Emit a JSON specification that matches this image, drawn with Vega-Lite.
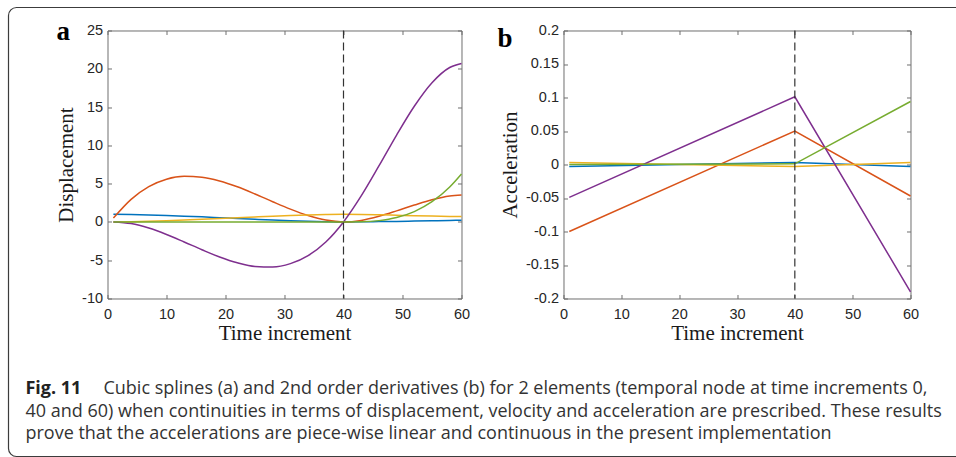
{
  "$schema": "https://vega.github.io/schema/vega-lite/v6.json",
  "background": "white",
  "padding": {"left": 7.5, "top": 6.5, "right": -51.7, "bottom": 0.3},
  "datasets": {
    "disp": [
      {"t": 1, "s": "s1", "v": 1.0}, {"t": 1, "s": "s2", "v": 0.5}, {"t": 1, "s": "s3", "v": 0}, {"t": 1, "s": "s4", "v": 0}, {"t": 1, "s": "s5", "v": 0},
      {"t": 4, "s": "s1", "v": 0.97}, {"t": 4, "s": "s2", "v": 2.95}, {"t": 4, "s": "s3", "v": 0.03}, {"t": 4, "s": "s4", "v": -0.22}, {"t": 4, "s": "s5", "v": 0},
      {"t": 7, "s": "s1", "v": 0.915}, {"t": 7, "s": "s2", "v": 4.61}, {"t": 7, "s": "s3", "v": 0.085}, {"t": 7, "s": "s4", "v": -0.8}, {"t": 7, "s": "s5", "v": 0},
      {"t": 10, "s": "s1", "v": 0.84}, {"t": 10, "s": "s2", "v": 5.58}, {"t": 10, "s": "s3", "v": 0.16}, {"t": 10, "s": "s4", "v": -1.64}, {"t": 10, "s": "s5", "v": 0},
      {"t": 13, "s": "s1", "v": 0.755}, {"t": 13, "s": "s2", "v": 5.95}, {"t": 13, "s": "s3", "v": 0.245}, {"t": 13, "s": "s4", "v": -2.62}, {"t": 13, "s": "s5", "v": 0},
      {"t": 16, "s": "s1", "v": 0.66}, {"t": 16, "s": "s2", "v": 5.84}, {"t": 16, "s": "s3", "v": 0.34}, {"t": 16, "s": "s4", "v": -3.63}, {"t": 16, "s": "s5", "v": 0},
      {"t": 19, "s": "s1", "v": 0.555}, {"t": 19, "s": "s2", "v": 5.35}, {"t": 19, "s": "s3", "v": 0.445}, {"t": 19, "s": "s4", "v": -4.58}, {"t": 19, "s": "s5", "v": 0},
      {"t": 22, "s": "s1", "v": 0.45}, {"t": 22, "s": "s2", "v": 4.59}, {"t": 22, "s": "s3", "v": 0.55}, {"t": 22, "s": "s4", "v": -5.34}, {"t": 22, "s": "s5", "v": 0},
      {"t": 25, "s": "s1", "v": 0.345}, {"t": 25, "s": "s2", "v": 3.65}, {"t": 25, "s": "s3", "v": 0.655}, {"t": 25, "s": "s4", "v": -5.82}, {"t": 25, "s": "s5", "v": 0},
      {"t": 28, "s": "s1", "v": 0.245}, {"t": 28, "s": "s2", "v": 2.64}, {"t": 28, "s": "s3", "v": 0.755}, {"t": 28, "s": "s4", "v": -5.89}, {"t": 28, "s": "s5", "v": 0},
      {"t": 31, "s": "s1", "v": 0.16}, {"t": 31, "s": "s2", "v": 1.67}, {"t": 31, "s": "s3", "v": 0.84}, {"t": 31, "s": "s4", "v": -5.45}, {"t": 31, "s": "s5", "v": 0},
      {"t": 34, "s": "s1", "v": 0.085}, {"t": 34, "s": "s2", "v": 0.83}, {"t": 34, "s": "s3", "v": 0.915}, {"t": 34, "s": "s4", "v": -4.4}, {"t": 34, "s": "s5", "v": 0},
      {"t": 37, "s": "s1", "v": 0.03}, {"t": 37, "s": "s2", "v": 0.24}, {"t": 37, "s": "s3", "v": 0.97}, {"t": 37, "s": "s4", "v": -2.62}, {"t": 37, "s": "s5", "v": 0},
      {"t": 40, "s": "s1", "v": 0}, {"t": 40, "s": "s2", "v": 0}, {"t": 40, "s": "s3", "v": 1.0}, {"t": 40, "s": "s4", "v": 0}, {"t": 40, "s": "s5", "v": 0},
      {"t": 43, "s": "s1", "v": 0.01}, {"t": 43, "s": "s2", "v": 0.2}, {"t": 43, "s": "s3", "v": 0.98}, {"t": 43, "s": "s4", "v": 3.4}, {"t": 43, "s": "s5", "v": 0.02},
      {"t": 46, "s": "s1", "v": 0.04}, {"t": 46, "s": "s2", "v": 0.73}, {"t": 46, "s": "s3", "v": 0.93}, {"t": 46, "s": "s4", "v": 7.31}, {"t": 46, "s": "s5", "v": 0.17},
      {"t": 49, "s": "s1", "v": 0.07}, {"t": 49, "s": "s2", "v": 1.44}, {"t": 49, "s": "s3", "v": 0.87}, {"t": 49, "s": "s4", "v": 11.35}, {"t": 49, "s": "s5", "v": 0.57},
      {"t": 52, "s": "s1", "v": 0.11}, {"t": 52, "s": "s2", "v": 2.2}, {"t": 52, "s": "s3", "v": 0.81}, {"t": 52, "s": "s4", "v": 15.11}, {"t": 52, "s": "s5", "v": 1.35},
      {"t": 55, "s": "s1", "v": 0.15}, {"t": 55, "s": "s2", "v": 2.9}, {"t": 55, "s": "s3", "v": 0.76}, {"t": 55, "s": "s4", "v": 18.18}, {"t": 55, "s": "s5", "v": 2.64},
      {"t": 58, "s": "s1", "v": 0.19}, {"t": 58, "s": "s2", "v": 3.39}, {"t": 58, "s": "s3", "v": 0.72}, {"t": 58, "s": "s4", "v": 20.17}, {"t": 58, "s": "s5", "v": 4.57},
      {"t": 60, "s": "s1", "v": 0.22}, {"t": 60, "s": "s2", "v": 3.53}, {"t": 60, "s": "s3", "v": 0.7}, {"t": 60, "s": "s4", "v": 20.7}, {"t": 60, "s": "s5", "v": 6.27}
    ],
    "acc": [
      {"t": 1, "s": "s1", "v": -0.003}, {"t": 40, "s": "s1", "v": 0.003}, {"t": 60, "s": "s1", "v": -0.003},
      {"t": 1, "s": "s2", "v": -0.1}, {"t": 40, "s": "s2", "v": 0.05}, {"t": 60, "s": "s2", "v": -0.047},
      {"t": 1, "s": "s3", "v": 0.003}, {"t": 40, "s": "s3", "v": -0.003}, {"t": 60, "s": "s3", "v": 0.003},
      {"t": 1, "s": "s4", "v": -0.049}, {"t": 40, "s": "s4", "v": 0.101}, {"t": 60, "s": "s4", "v": -0.19},
      {"t": 1, "s": "s5", "v": 0}, {"t": 40, "s": "s5", "v": 0.001}, {"t": 60, "s": "s5", "v": 0.094}
    ],
    "nodes": [{"t": 40}],
    "caption": [
      {"line": 1, "part": "label", "text": "Fig. 11"},
      {"line": 1, "part": "first", "text": "Cubic splines (a) and 2nd order derivatives (b) for 2 elements (temporal node at time increments 0,"},
      {"line": 2, "part": "rest", "text": "40 and 60) when continuities in terms of displacement, velocity and acceleration are prescribed. These results"},
      {"line": 3, "part": "rest", "text": "prove that the accelerations are piece-wise linear and continuous in the present implementation"}
    ]
  },
  "columns": 2,
  "align": "none",
  "bounds": "flush",
  "spacing": {"row": 96, "column": 102},
  "concat": [
    {
      "width": 354,
      "height": 268,
      "title": {"text": "a", "anchor": "start", "frame": "group", "font": "Liberation Serif", "fontSize": 27, "fontWeight": "bold", "color": "#000", "baseline": "alphabetic", "offset": 0, "dx": -51, "dy": 45},
      "layer": [
        {
          "data": {"name": "disp"},
          "mark": {"type": "line", "interpolate": "monotone", "strokeWidth": 1.5},
          "encoding": {
            "x": {"field": "t", "type": "quantitative", "scale": {"domain": [0, 60], "nice": false},
              "axis": {"orient": "bottom", "values": [0, 10, 20, 30, 40, 50, 60], "title": "Time increment", "labelPadding": 13, "titlePadding": 2}},
            "y": {"field": "v", "type": "quantitative", "scale": {"domain": [-10, 25], "nice": false, "zero": false},
              "axis": {"orient": "left", "values": [-10, -5, 0, 5, 10, 15, 20, 25], "title": "Displacement", "labelPadding": 9, "titlePadding": 5, "labelExpr": "toString(datum.value)"}},
            "color": {"field": "s", "type": "nominal", "legend": null,
              "scale": {"domain": ["s1", "s2", "s3", "s4", "s5"], "range": ["#0072BD", "#D95319", "#EDB120", "#7E2F8E", "#77AC30"]}}
          }
        },
        {
          "data": {"name": "disp"},
          "mark": {"type": "point", "opacity": 0},
          "encoding": {
            "x": {"field": "t", "type": "quantitative", "axis": {"orient": "top", "values": [0, 10, 20, 30, 40, 50, 60], "labels": false, "title": null}},
            "y": {"field": "v", "type": "quantitative", "axis": {"orient": "right", "values": [-10, -5, 0, 5, 10, 15, 20, 25], "labels": false, "title": null}}
          }
        },
        {
          "data": {"name": "nodes"},
          "mark": {"type": "rule", "strokeDash": [8, 4], "color": "#333", "strokeWidth": 1.2},
          "encoding": {"x": {"field": "t", "type": "quantitative", "axis": null}}
        }
      ],
      "resolve": {"axis": {"x": "independent", "y": "independent"}}
    },
    {
      "width": 347,
      "height": 268,
      "title": {"text": "b", "anchor": "start", "frame": "group", "font": "Liberation Serif", "fontSize": 27, "fontWeight": "bold", "color": "#000", "baseline": "alphabetic", "offset": 0, "dx": -66, "dy": 52},
      "layer": [
        {
          "data": {"name": "acc"},
          "mark": {"type": "line", "strokeWidth": 1.5},
          "encoding": {
            "x": {"field": "t", "type": "quantitative", "scale": {"domain": [0, 60], "nice": false},
              "axis": {"orient": "bottom", "values": [0, 10, 20, 30, 40, 50, 60], "title": "Time increment", "labelPadding": 13, "titlePadding": 2}},
            "y": {"field": "v", "type": "quantitative", "scale": {"domain": [-0.2, 0.2], "nice": false, "zero": false},
              "axis": {"orient": "left", "values": [-0.2, -0.15, -0.1, -0.05, 0, 0.05, 0.1, 0.15, 0.2], "title": "Acceleration", "labelPadding": 9, "titlePadding": 5, "labelExpr": "toString(datum.value)"}},
            "color": {"field": "s", "type": "nominal", "legend": null,
              "scale": {"domain": ["s1", "s2", "s3", "s4", "s5"], "range": ["#0072BD", "#D95319", "#EDB120", "#7E2F8E", "#77AC30"]}}
          }
        },
        {
          "data": {"name": "acc"},
          "mark": {"type": "point", "opacity": 0},
          "encoding": {
            "x": {"field": "t", "type": "quantitative", "axis": {"orient": "top", "values": [0, 10, 20, 30, 40, 50, 60], "labels": false, "title": null}},
            "y": {"field": "v", "type": "quantitative", "axis": {"orient": "right", "values": [-0.2, -0.15, -0.1, -0.05, 0, 0.05, 0.1, 0.15, 0.2], "labels": false, "title": null}}
          }
        },
        {
          "data": {"name": "nodes"},
          "mark": {"type": "rule", "strokeDash": [8, 4], "color": "#333", "strokeWidth": 1.2},
          "encoding": {"x": {"field": "t", "type": "quantitative", "axis": null}}
        }
      ],
      "resolve": {"axis": {"x": "independent", "y": "independent"}}
    },
    {
      "width": 354,
      "height": 45,
      "layer": [
        {
          "data": {"values": [{}]},
          "mark": {"type": "rect", "filled": false, "stroke": "#3c3c3c", "strokeWidth": 1.2, "cornerRadius": 8},
          "encoding": {"x": {"value": -99}, "x2": {"value": 900}, "y": {"value": -387}, "y2": {"value": 62}}
        },
        {
          "data": {"name": "caption"},
          "transform": [{"filter": "datum.part == 'label'"}],
          "mark": {"type": "text", "align": "left", "baseline": "alphabetic", "font": "Open Sans", "fontSize": 18, "fontWeight": "bold", "color": "#222"},
          "encoding": {
            "x": {"value": -82},
            "y": {"field": "line", "type": "ordinal", "axis": null, "scale": {"type": "point", "padding": 0}},
            "text": {"field": "text"}
          }
        },
        {
          "data": {"name": "caption"},
          "transform": [{"filter": "datum.part == 'first'"}],
          "mark": {"type": "text", "align": "left", "baseline": "alphabetic", "font": "Open Sans", "fontSize": 18, "color": "#333"},
          "encoding": {
            "x": {"value": -4},
            "y": {"field": "line", "type": "ordinal", "axis": null, "scale": {"type": "point", "padding": 0}},
            "text": {"field": "text"}
          }
        },
        {
          "data": {"name": "caption"},
          "transform": [{"filter": "datum.part == 'rest'"}],
          "mark": {"type": "text", "align": "left", "baseline": "alphabetic", "font": "Open Sans", "fontSize": 18, "color": "#333"},
          "encoding": {
            "x": {"value": -82},
            "y": {"field": "line", "type": "ordinal", "axis": null, "scale": {"type": "point", "padding": 0, "domain": [1, 2, 3]}},
            "text": {"field": "text"}
          }
        }
      ]
    }
  ],
  "config": {
    "view": {"stroke": null},
    "axis": {
      "grid": false,
      "labelFont": "Liberation Sans",
      "labelFontSize": 14.5,
      "labelColor": "#262626",
      "titleFont": "Liberation Serif",
      "titleFontSize": 21,
      "titleFontWeight": "normal",
      "titleColor": "#1a1a1a",
      "domainColor": "#6e6e6e",
      "tickColor": "#6e6e6e",
      "tickSize": -4,
      "labelFlush": false,
      "labelOverlap": false
    }
  }
}
